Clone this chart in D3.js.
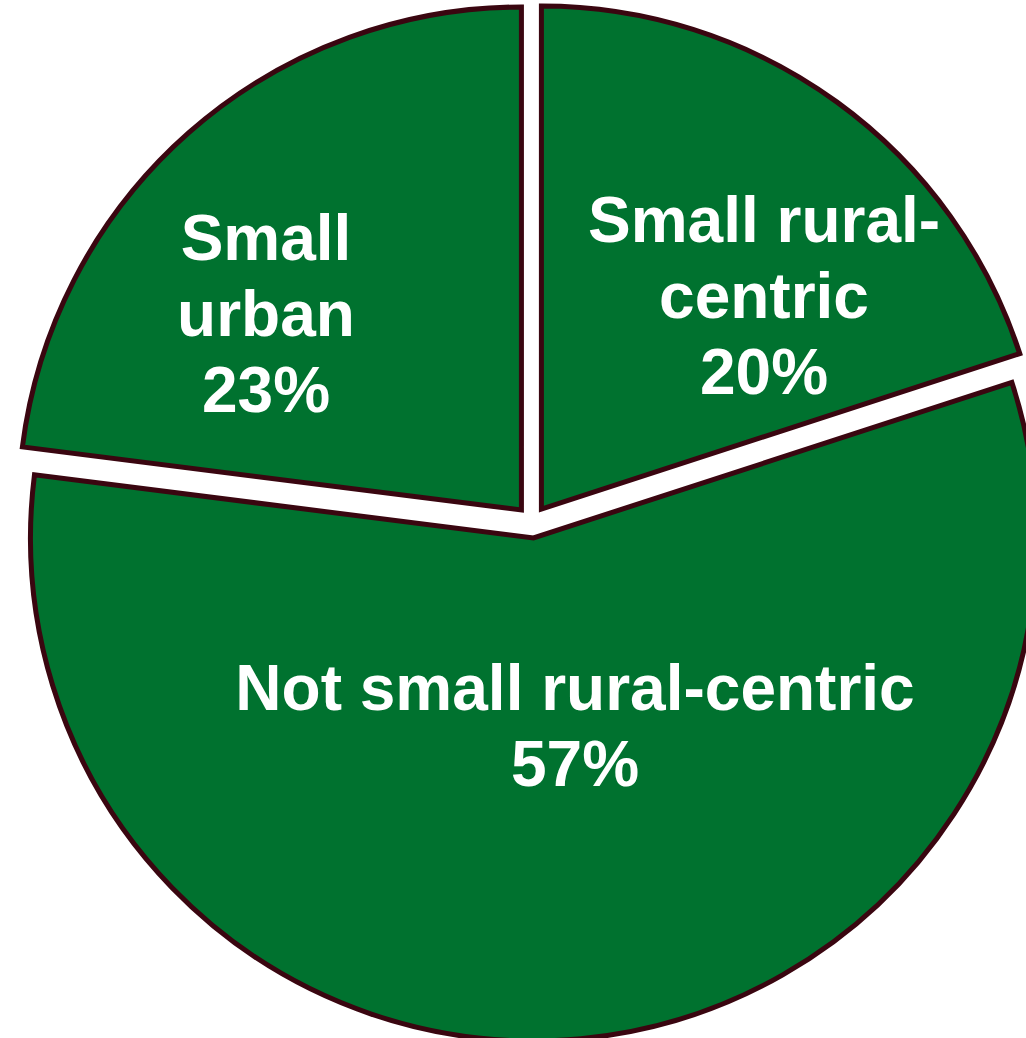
<!DOCTYPE html>
<html>
<head>
<meta charset="utf-8">
<script src="https://cdn.jsdelivr.net/npm/d3@7/dist/d3.min.js"></script>
<style>
  html, body { margin: 0; padding: 0; background: #ffffff; overflow: hidden; }
  svg { display: block; }
</style>
</head>
<body>
<svg id="chart" width="1026" height="1038"></svg>
<script>
// ---- Data ----
const categories = ["Small rural-centric", "Not small rural-centric", "Small urban"];
const shares = [20, 57, 23];
const labelLines = [
  ["Small rural-", "centric", "20%"],
  ["Not small rural-centric", "57%"],
  ["Small", "urban", "23%"]
];

// ---- Layout / style ----
const W = 1026, H = 1038;
const cx = 532, cy = 522;
const radius = 503;
const explode = 16;
const fillColor = "#00722F";
const strokeColor = "#3A0610";
const labelOffsets = [[232, -280], [43, 188], [-266, -262]]; // centre x, first baseline relative to pie centre
const lineHeight = 76;

const svg = d3.select("#chart");
const g = svg.append("g").attr("transform", `translate(${cx},${cy})`);

const data = categories.map((c, i) => ({ category: c, value: shares[i], lines: labelLines[i], off: labelOffsets[i] }));

const pie = d3.pie().sort(null).value(d => d.value).startAngle(0).endAngle(2 * Math.PI);
const arc = d3.arc().innerRadius(0).outerRadius(radius);

const arcs = pie(data);

g.selectAll("path.slice")
  .data(arcs)
  .join("path")
  .attr("class", "slice")
  .attr("d", arc)
  .attr("transform", d => {
    const mid = (d.startAngle + d.endAngle) / 2;
    const dx = Math.sin(mid) * explode;
    const dy = -Math.cos(mid) * explode;
    return `translate(${dx},${dy})`;
  })
  .attr("fill", fillColor)
  .attr("stroke", strokeColor)
  .attr("stroke-width", 5)
  .attr("stroke-linejoin", "miter");

const labels = g.selectAll("text.label")
  .data(arcs)
  .join("text")
  .attr("class", "label")
  .attr("text-anchor", "middle")
  .attr("font-family", "'Liberation Sans', Arial, sans-serif")
  .attr("font-weight", "bold")
  .attr("font-size", 64)
  .attr("fill", "#ffffff");

labels.each(function (d) {
  const t = d3.select(this);
  d.data.lines.forEach((line, i) => {
    t.append("tspan")
      .attr("x", d.data.off[0])
      .attr("y", d.data.off[1] + i * lineHeight)
      .text(line);
  });
});
</script>
</body>
</html>
